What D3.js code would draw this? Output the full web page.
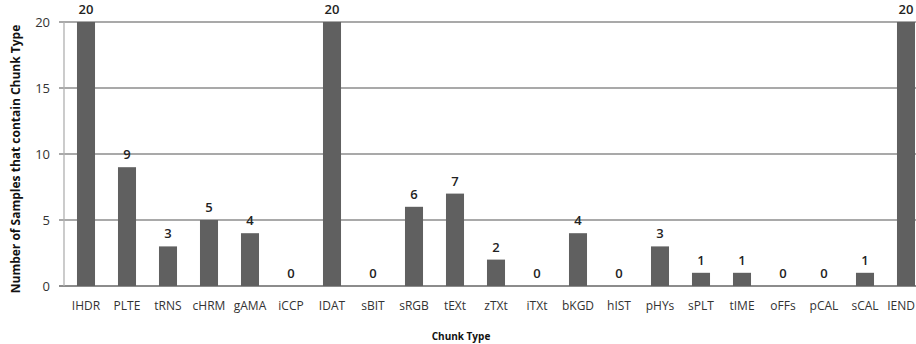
<!DOCTYPE html>
<html><head><meta charset="utf-8">
<script src="https://cdn.jsdelivr.net/npm/d3@7"></script>
<style>body{margin:0;background:#fff}svg{display:block}text{font-family:"Open Sans",sans-serif}</style>
</head><body>
<svg id="c" width="916" height="344"></svg>
<script>
const categories=["IHDR","PLTE","tRNS","cHRM","gAMA","iCCP","IDAT","sBIT","sRGB","tEXt","zTXt","iTXt","bKGD","hIST","pHYs","sPLT","tIME","oFFs","pCAL","sCAL","IEND"];
const values=[20,9,3,5,4,0,20,0,6,7,2,0,4,0,3,1,1,0,0,1,20];
const yTicks=[0,5,10,15,20];

const svg=d3.select("#c");
const plotLeft=65.5, step=41, plotTop=22, plotBottom=286;
const x=d3.scaleBand().domain(categories).range([plotLeft,plotLeft+step*categories.length]).paddingInner(0.56).paddingOuter(0.28);
const y=d3.scaleLinear().domain([0,20]).range([plotBottom,plotTop]);

svg.append("g").selectAll("line").data(yTicks).join("line")
 .attr("x1",59).attr("x2",916).attr("y1",d=>y(d)).attr("y2",d=>y(d))
 .attr("stroke","#8c8c8c").attr("stroke-width",d=>d===0?2:1.3);
svg.append("line").attr("x1",64).attr("x2",64).attr("y1",plotTop).attr("y2",plotBottom).attr("stroke","#b0b0b0").attr("stroke-width",1.3);

svg.append("g").selectAll("rect").data(values).join("rect")
 .attr("x",(d,i)=>x(categories[i])).attr("width",x.bandwidth())
 .attr("y",d=>y(d)).attr("height",d=>plotBottom-y(d)).attr("fill","#606060");

svg.append("g").selectAll("text").data(values).join("text")
 .attr("x",(d,i)=>x(categories[i])+x.bandwidth()/2).attr("y",d=>y(d)-8)
 .attr("text-anchor","middle").attr("font-size",13).attr("font-weight",600).attr("fill","#222").text(d=>d);

svg.append("g").selectAll("text").data(yTicks).join("text")
 .attr("x",50).attr("y",d=>y(d)+4.5).attr("text-anchor","end").attr("font-size",13).attr("fill","#333").text(d=>d);

const n=categories.length;
svg.append("g").selectAll("text").data(categories).join("text")
 .attr("x",(d,i)=>i===n-1?915:x(d)+x.bandwidth()/2).attr("y",310)
 .attr("text-anchor",(d,i)=>i===n-1?"end":"middle").attr("font-size",12).attr("fill","#333").text(d=>d);

svg.append("text").attr("x",461).attr("y",340).attr("text-anchor","middle").attr("font-size",10).attr("font-weight","bold").attr("fill","#111").text("Chunk Type");
svg.append("text").attr("transform","translate(20,159) rotate(-90)").attr("text-anchor","middle").attr("font-size",12).attr("font-weight","bold").attr("fill","#111").text("Number of Samples that contain Chunk Type");
</script>
</body></html>
